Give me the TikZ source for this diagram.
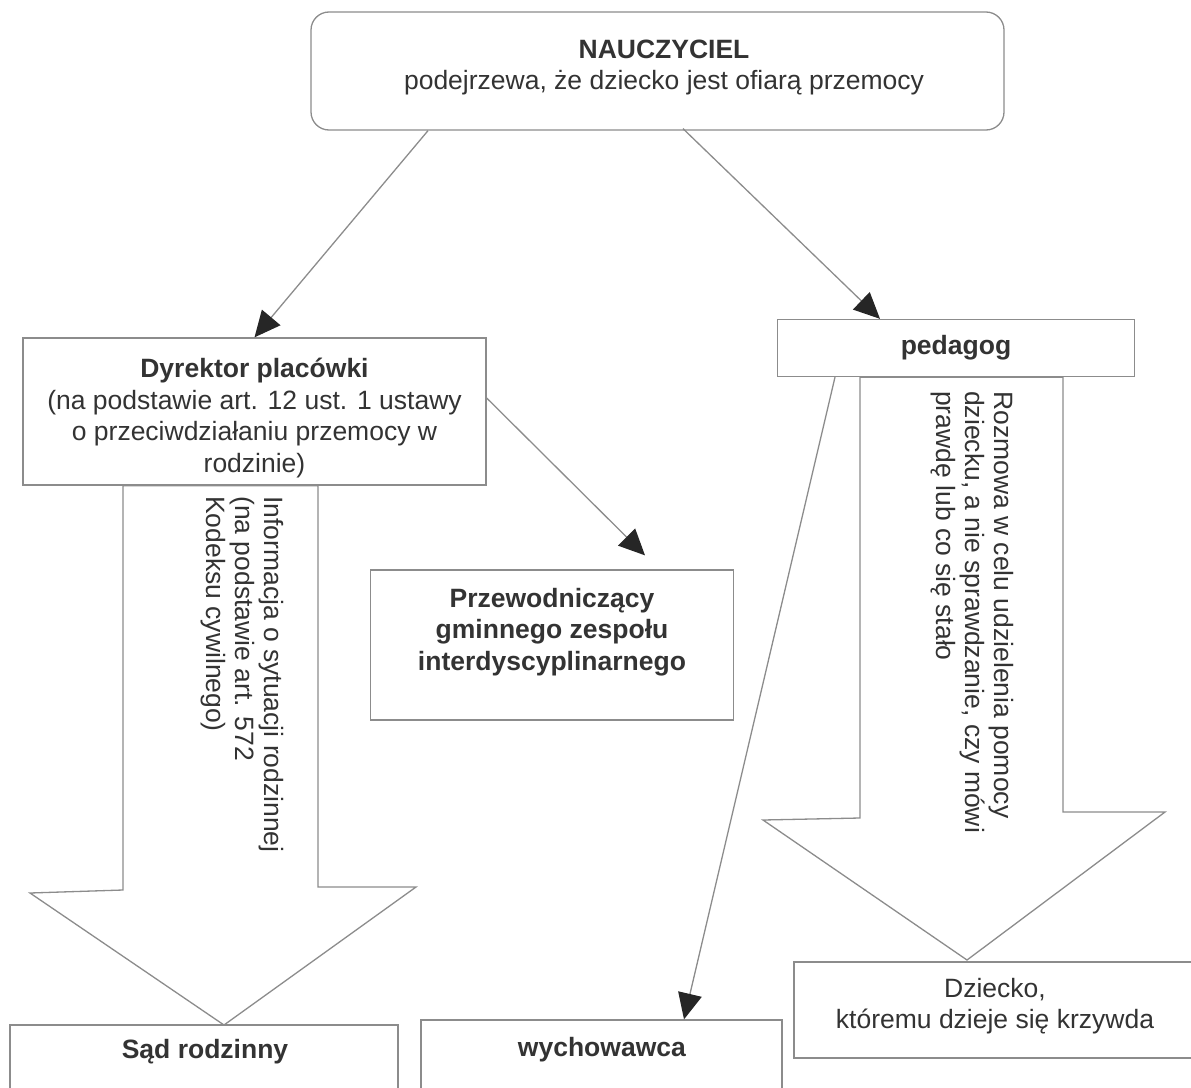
\documentclass[tikz,border=0pt]{standalone}
\usepackage{fontspec}
\setmainfont{Liberation Sans}
\usetikzlibrary{arrows.meta,calc}
\definecolor{ink}{HTML}{333333}
\definecolor{edge}{HTML}{8C8C8C}
\definecolor{tip}{HTML}{262626}
\begin{document}
\begin{tikzpicture}[x=1pt,y=-1pt,
  box/.style={draw=edge, line width=1.3pt, fill=white, inner sep=0pt},
  txt/.style={text=ink, font=\fontsize{26.5}{31.5}\selectfont, align=center, inner sep=0pt},
  conn/.style={draw=edge, line width=1.3pt, -{Triangle[length=26pt,width=24pt,color=tip,fill=tip]}},
  blk/.style={draw=edge, line width=1.3pt, fill=white, line join=miter},
  vtxt/.style={text=ink, font=\fontsize{26.5}{29}\selectfont, align=left, inner sep=0pt, rotate=-90, anchor=north west}
]
\useasboundingbox (0,0) rectangle (1191,1087);
\clip (0,0) rectangle (1191,1087);

% boxes (positions)
\node[box, minimum width=693pt, minimum height=118pt, rounded corners=18pt] (naucz) at (657.5,71) {};
\node[box, minimum width=463pt, minimum height=147pt] (dyr) at (254.5,411.5) {};
\node[box, minimum width=357pt, minimum height=57pt] (ped) at (956,348) {};

% block arrows
\draw[blk] ([xshift=-131.5pt]dyr.south) -- (123,890) -- (30,893) -- (224,1025)
  -- (416,887) -- (318,887) -- ([xshift=63.5pt]dyr.south) -- cycle;
\draw[blk] ([xshift=-96pt]ped.south) -- (860,818) -- (763,820) -- (967,960)
  -- (1165,812) -- (1063,812) -- ([xshift=107pt]ped.south) -- cycle;

% redraw top boxes over the arrow shafts
\node[box, minimum width=463pt, minimum height=147pt] at (dyr) {};
\node[box, minimum width=357pt, minimum height=57pt] at (ped) {};

\node[box, minimum width=363pt, minimum height=150pt] (prz) at (552,645) {};
\node[box, minimum width=388pt, minimum height=90pt] (sad) at (204,1070) {};
\node[box, minimum width=361pt, minimum height=95pt] (wych) at (601.5,1067.5) {};
\node[box, minimum width=411pt, minimum height=96pt] (dz) at (999.5,1010) {};

% texts
\node[txt] (naucz-t) at ([xshift=6.5pt,yshift=3.5pt]naucz.center) {\textbf{NAUCZYCIEL}\\podejrzewa, że dziecko jest ofiarą przemocy};
\node[txt] (dyr-t) at ([yshift=-6.5pt]dyr.center) {\textbf{Dyrektor placówki}\\(na podstawie art. 12 ust. 1 ustawy\\o przeciwdziałaniu przemocy w\\rodzinie)};
\node[txt] (ped-t) at (ped.center) {\textbf{pedagog}};
\node[txt] (prz-t) at ([yshift=13pt]prz.center) {\textbf{Przewodniczący}\\\textbf{gminnego zespołu}\\\textbf{interdyscyplinarnego}};
\node[txt] (sad-t) at (205,1052) {\textbf{Sąd rodzinny}};
\node[txt] (wych-t) at (602,1050) {\textbf{wychowawca}};
\node[txt] (dz-t) at (995,1006) {Dziecko,\\któremu dzieje się krzywda};

\node[vtxt] (info) at (284,496) {Informacja o sytuacji rodzinnej\\(na podstawie art. 572\\Kodeksu cywilnego)};
\node[vtxt] (rozm) at (1014,391) {Rozmowa w celu udzielenia pomocy\\dziecku, a nie sprawdzanie, czy mówi\\prawdę lub co się stało};

% connectors
\draw[conn] ([xshift=-229.5pt]naucz.south) -- (dyr.north);
\draw[conn] ([xshift=25.5pt,yshift=2pt]naucz.south) -- ([xshift=-76pt]ped.north);
\draw[conn] ([yshift=13.5pt]dyr.east) -- ([xshift=93pt,yshift=14pt]prz.north);
\draw[conn] ([xshift=-121pt]ped.south) -- ([xshift=82.5pt]wych.north);
\end{tikzpicture}
\end{document}
